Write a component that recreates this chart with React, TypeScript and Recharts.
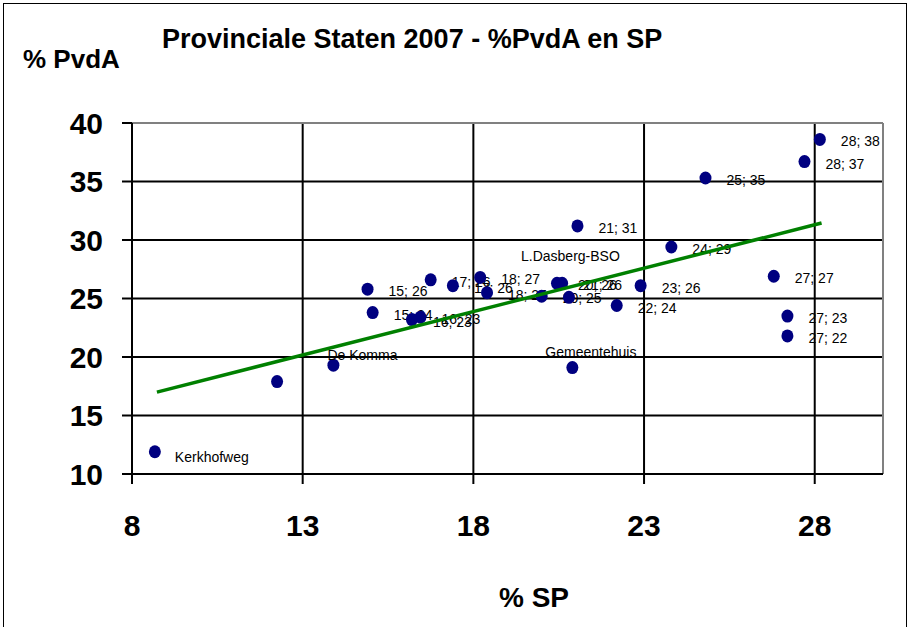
import React from "react";
import {
  ScatterChart,
  Scatter,
  XAxis,
  YAxis,
  CartesianGrid,
  ReferenceLine,
} from "recharts";

// % SP per stembureau
const sp = [
  8.67, 12.25, 13.9, 14.9, 15.05, 16.2, 16.45, 16.75, 17.4, 18.2, 18.4, 20.0,
  20.45, 20.6, 20.8, 21.05, 20.9, 22.2, 22.9, 23.8, 24.8, 26.8, 27.2, 27.2,
  27.7, 28.15,
];
// % PvdA per stembureau
const pvda = [
  11.9, 17.9, 19.3, 25.8, 23.8, 23.2, 23.4, 26.6, 26.1, 26.8, 25.5, 25.2, 26.3,
  26.3, 25.1, 31.2, 19.1, 24.4, 26.1, 29.4, 35.3, 26.9, 23.5, 21.8, 36.7, 38.6,
];
const valueLabels = [
  "", "", "", "15; 26", "15; 24", "16; 23", "16; 23", "17; 26", "17; 26",
  "18; 27", "18; 25", "20; 25", "20; 26", "21; 26", "", "21; 31", "",
  "22; 24", "23; 26", "24; 29", "25; 35", "27; 27", "27; 23", "27; 22",
  "28; 37", "28; 38",
];
const names = [
  "Kerkhofweg", "", "De Komma", "", "", "", "", "", "", "", "", "",
  "L.Dasberg-BSO", "", "", "", "Gemeentehuis", "", "", "", "", "", "", "",
  "", "",
];

// lineaire trendlijn, eindpunten
const trendSp = [8.73, 28.2];
const trendPvda = [17.0, 31.45];

const xTicks = [8, 13, 18, 23, 28];
const yTicks = [10, 15, 20, 25, 30, 35, 40];

const points = sp.map((x, i) => ({
  x,
  y: pvda[i],
  label: valueLabels[i],
  name: names[i],
}));
const trend = trendSp.map((x, i) => ({ x, y: trendPvda[i] }));

// where the station names sit relative to their dot
const nameOffsets: Record<string, [number, number]> = {
  Kerkhofweg: [20, 5],
  "De Komma": [-6, -10],
  Gemeentehuis: [-27, -16],
  "L.Dasberg-BSO": [-36, -27],
};

const font = "'Liberation Sans', Arial, sans-serif";

const Dot = (props: any) => {
  const { cx, cy, payload } = props;
  const off = nameOffsets[payload.name] || [0, 0];
  return (
    <g>
      <ellipse cx={cx} cy={cy} rx={6} ry={6.5} fill="#000080" />
      {payload.label && (
        <text
          x={cx + 21}
          y={cy + 2}
          dominantBaseline="central"
          fontSize={14}
          fontFamily={font}
          fill="#000"
        >
          {payload.label}
        </text>
      )}
      {payload.name && (
        <text
          x={cx + off[0]}
          y={cy + off[1]}
          dominantBaseline="central"
          fontSize={14}
          fontFamily={font}
          fill="#000"
        >
          {payload.name}
        </text>
      )}
    </g>
  );
};

const NoDot = () => <g />;

export default function App() {
  const tick = { fill: "#000", fontSize: 30, fontWeight: "bold", fontFamily: font };
  return (
    <div
      style={{
        position: "fixed",
        left: 0,
        top: 0,
        width: 909,
        height: 627,
        overflow: "hidden",
        background: "#fff",
        fontFamily: font,
      }}
    >
      <div
        style={{
          position: "absolute",
          left: 3,
          top: 3,
          width: 902,
          height: 700,
          border: "1px solid #000",
        }}
      />
      <div style={{ position: "absolute", left: 162, top: 26, fontSize: 27, lineHeight: "27px", fontWeight: "bold", whiteSpace: "pre" }}>
        Provinciale Staten 2007 - %PvdA en SP
      </div>
      <div style={{ position: "absolute", left: 23, top: 46, fontSize: 26, lineHeight: "26px", fontWeight: "bold", whiteSpace: "pre" }}>
        % PvdA
      </div>
      <div style={{ position: "absolute", left: 499, top: 584, fontSize: 28, lineHeight: "28px", fontWeight: "bold", whiteSpace: "pre" }}>
        % SP
      </div>
      <div style={{ position: "absolute", left: 0, top: 0 }}>
        <ScatterChart
          width={909}
          height={627}
          margin={{ top: 123, right: 26, left: 0, bottom: 0 }}
        >
          <CartesianGrid stroke="#000" strokeWidth={2} />
          <XAxis
            type="number"
            dataKey="x"
            domain={[8, 30]}
            ticks={xTicks}
            interval={0}
            height={153}
            tickSize={10}
            tickMargin={31}
            tick={tick}
            axisLine={{ stroke: "#000", strokeWidth: 2 }}
            tickLine={{ stroke: "#000", strokeWidth: 2 }}
          />
          <YAxis
            type="number"
            dataKey="y"
            domain={[10, 40]}
            ticks={yTicks}
            interval={0}
            width={132}
            tickSize={10}
            tickMargin={19}
            tick={tick}
            axisLine={{ stroke: "#000", strokeWidth: 2 }}
            tickLine={{ stroke: "#000", strokeWidth: 2 }}
          />
          <ReferenceLine y={40} stroke="#808080" strokeWidth={2} />
          <ReferenceLine x={30} stroke="#808080" strokeWidth={2} />
          <Scatter data={points} shape={Dot} isAnimationActive={false} />
          <Scatter
            data={trend}
            line={{ stroke: "#008000", strokeWidth: 3.5 }}
            shape={NoDot}
            isAnimationActive={false}
          />
        </ScatterChart>
      </div>
    </div>
  );
}
